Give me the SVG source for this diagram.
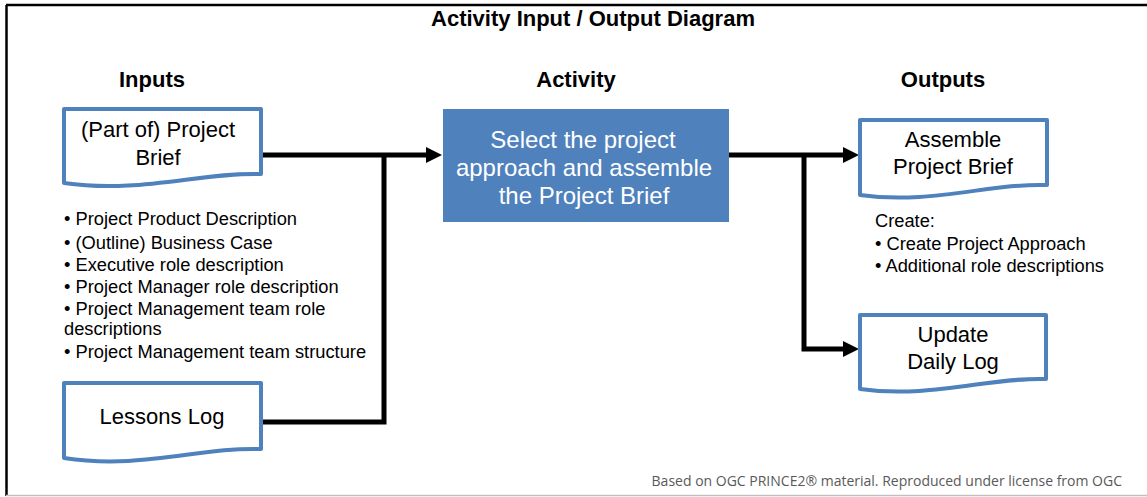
<svg xmlns="http://www.w3.org/2000/svg" width="1147" height="497" viewBox="0 0 1147 497">
<style>
.doc{fill:#fff;stroke:#4F81BD;stroke-width:4;stroke-linejoin:round}
.dt{font-family:"Liberation Sans",Arial,sans-serif;font-size:22px;fill:#000;text-anchor:middle}
.hd{font-family:"Liberation Sans",Arial,sans-serif;font-size:22px;font-weight:bold;fill:#000;text-anchor:middle}
.bl{font-family:"Liberation Sans",Arial,sans-serif;font-size:18.3px;fill:#000}
.at{font-family:"Liberation Sans",Arial,sans-serif;font-size:24px;fill:#fff;text-anchor:middle}
.cn{fill:none;stroke:#000;stroke-width:5}
</style>
<defs>
<marker id="ah" markerUnits="userSpaceOnUse" markerWidth="16" markerHeight="16" refX="1" refY="8" orient="auto">
<path d="M0,0 L16,8 L0,16 Z" fill="#000"/>
</marker>
</defs>
<rect x="0" y="0" width="1147" height="497" fill="#fff"/>
<line x1="6" y1="5" x2="1147" y2="5" stroke="#000" stroke-width="2.5"/>
<line x1="6.5" y1="5" x2="6.5" y2="496" stroke="#000" stroke-width="2.5"/>
<line x1="6" y1="495.5" x2="1147" y2="495.5" stroke="#c0c0c0" stroke-width="1.5"/>
<text x="593" y="26" class="hd" font-size="21">Activity Input / Output Diagram</text>
<text x="152" y="87" class="hd">Inputs</text>
<text x="576" y="87" class="hd">Activity</text>
<text x="943" y="87" class="hd">Outputs</text>

<g id="connectors">
<polyline class="cn" points="262,155 427,155" marker-end="url(#ah)"/>
<polyline class="cn" points="262,422 384,422 384,155"/>
<polyline class="cn" points="729,155 844,155" marker-end="url(#ah)"/>
<polyline class="cn" points="804,155 804,349 844,349" marker-end="url(#ah)"/>
</g>

<g id="input-project-brief">
<path class="doc" d="M64,109 H261 V174 C200,172 140,194 64,183 Z"/>
<text class="dt" x="158" y="137">(Part of) Project</text>
<text class="dt" x="158" y="165">Brief</text>
</g>

<g id="input-bullets">
<text class="bl" x="64" y="225">• Project Product Description</text>
<text class="bl" x="64" y="249">• (Outline) Business Case</text>
<text class="bl" x="64" y="271">• Executive role description</text>
<text class="bl" x="64" y="293">• Project Manager role description</text>
<text class="bl" x="64" y="315">• Project Management team role</text>
<text class="bl" x="64" y="335">descriptions</text>
<text class="bl" x="64" y="358">• Project Management team structure</text>
</g>

<g id="input-lessons-log">
<path class="doc" d="M64,383 H261 V449 C200,447 140,470 64,458 Z"/>
<text class="dt" x="162" y="424">Lessons Log</text>
</g>

<g id="activity">
<rect x="443" y="109" width="286" height="113" fill="#4F81BD"/>
<text class="at" x="583" y="148">Select the project</text>
<text class="at" x="584" y="176">approach and assemble</text>
<text class="at" x="584" y="204">the  Project Brief</text>
</g>

<g id="output-assemble">
<path class="doc" d="M860,120 H1047 V185 C990,183 930,205 860,195 Z"/>
<text class="dt" x="953" y="147">Assemble</text>
<text class="dt" x="953" y="174">Project Brief</text>
</g>

<g id="output-create-text">
<text class="bl" x="875" y="227">Create:</text>
<text class="bl" x="875" y="250">• Create Project Approach</text>
<text class="bl" x="875" y="272">• Additional role descriptions</text>
</g>

<g id="output-daily-log">
<path class="doc" d="M860,315 H1046 V379 C990,377 930,399 860,389 Z"/>
<text class="dt" x="953" y="342">Update</text>
<text class="dt" x="953" y="369">Daily Log</text>
</g>

<text x="1122" y="486" text-anchor="end" font-family="'Open Sans','Noto Sans',sans-serif" font-size="14" fill="#595959">Based on OGC PRINCE2® material. Reproduced under license from OGC</text>
</svg>
